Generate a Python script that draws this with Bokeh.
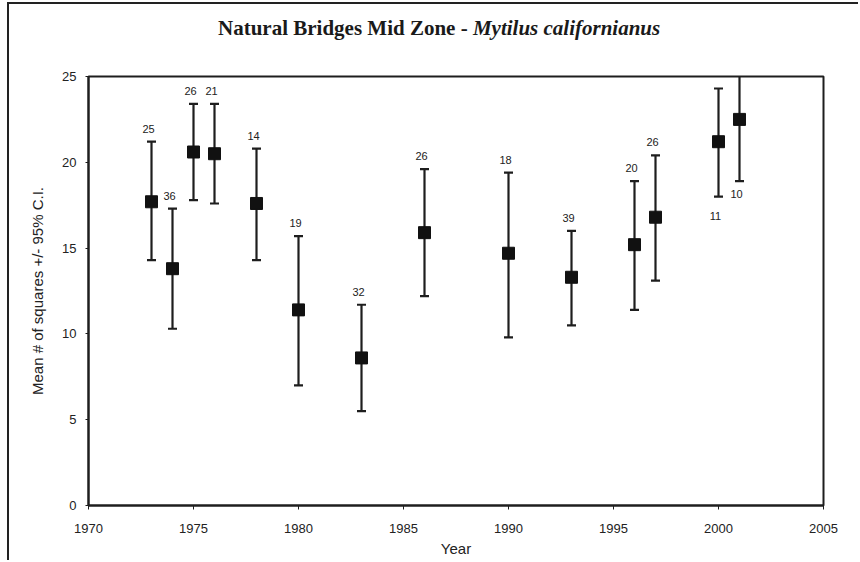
from bokeh.plotting import figure
from bokeh.models import Range1d, SingleIntervalTicker, ColumnDataSource, Div
from bokeh.layouts import column
from bokeh.core.properties import value
from bokeh.embed import file_html
from bokeh.resources import INLINE

# ---- data ----
years = [1973, 1974, 1975, 1976, 1978, 1980, 1983, 1986, 1990, 1993, 1996, 1997, 2000, 2001]
means = [17.7, 13.8, 20.6, 20.5, 17.6, 11.4, 8.6, 15.9, 14.7, 13.3, 15.2, 16.8, 21.2, 22.5]
upper = [21.2, 17.3, 23.4, 23.4, 20.8, 15.7, 11.7, 19.6, 19.4, 16.0, 18.9, 20.4, 24.3, 25.5]
lower = [14.3, 10.3, 17.8, 17.6, 14.3, 7.0, 5.5, 12.2, 9.8, 10.5, 11.4, 13.1, 18.0, 18.9]
n_labels = ["25", "36", "26", "21", "14", "19", "32", "26", "18", "39", "20", "26", "11", "10"]
label_side = ["above"] * 12 + ["below", "below"]

title_plain = "Natural Bridges Mid Zone - "
title_species = "Mytilus californianus"

x_ticks_start, x_ticks_end = 1970, 2005
y_ticks_start, y_ticks_end = 0, 25

INK = "#1e1e1e"
FRAME_BG = ("linear-gradient(#222,#222) 7px 2px / 2px 100% no-repeat, "
            "linear-gradient(#222,#222) 7px 2px / 100% 2px no-repeat, white")
FRAME_BG2 = "linear-gradient(#222,#222) 7px 0 / 2px 100% no-repeat, white"

title_div = Div(
    text=(f'<div style="margin-top:15px; margin-left:218px; white-space:nowrap; '
          f'font-family:\'Liberation Serif\'; font-weight:bold; font-size:21px; '
          f'line-height:26px; color:#1a1a1a">{title_plain}<i>{title_species}</i></div>'),
    width=858, height=50, margin=0, styles={"background": FRAME_BG})

p = figure(width=852, height=510, output_backend="svg", toolbar_location=None,
           x_range=Range1d(x_ticks_start, x_ticks_end), y_range=Range1d(y_ticks_start, y_ticks_end),
           min_border_left=88, min_border_right=29, min_border_top=26, min_border_bottom=55,
           margin=0, styles={"background": FRAME_BG2})
p.background_fill_color = "white"
p.border_fill_color = None
p.xgrid.visible = False
p.ygrid.visible = False
p.outline_line_color = INK
p.outline_line_width = 2

for ax in (p.xaxis[0], p.yaxis[0]):
    ax.ticker = SingleIntervalTicker(interval=5)
    ax.minor_tick_line_color = None
    ax.axis_line_color = INK
    ax.axis_line_width = 2
    ax.major_tick_line_color = INK
    ax.major_tick_line_width = 1
    ax.major_tick_in = 0
    ax.major_label_text_font = "Liberation Sans"
    ax.major_label_text_font_size = "13px"
    ax.major_label_text_color = "#222222"
    ax.axis_label_text_font = "Liberation Sans"
    ax.axis_label_text_font_style = "normal"
    ax.axis_label_text_font_size = "15px"
    ax.axis_label_text_color = "#222222"

p.xaxis.axis_label = "Year"
p.xaxis.major_tick_out = 4
p.xaxis.major_label_standoff = 14
p.xaxis.axis_label_standoff = 4
p.yaxis.axis_label = "Mean # of squares +/- 95% C.I."
p.yaxis.major_tick_out = 3
p.yaxis.major_label_standoff = 8
p.yaxis.axis_label_standoff = 13
p.yaxis.major_label_orientation = "horizontal"

anchor = [u if s == "above" else l for u, l, s in zip(upper, lower, label_side)]
offs = []
for s, lab in zip(label_side, n_labels):
    if s == "above":
        offs.append(-13)
    else:
        offs.append(19 if lab == "11" else 13)

src = ColumnDataSource(dict(x=years, m=means, up=upper, lo=lower, lab=n_labels, ay=anchor, yo=offs))

p.segment(x0="x", y0="lo", x1="x", y1="up", source=src, line_color=INK, line_width=2.2)
p.dash(x="x", y="up", source=src, size=9, line_color=INK, line_width=2.2)
p.dash(x="x", y="lo", source=src, size=9, line_color=INK, line_width=2.2)
p.scatter(x="x", y="m", source=src, marker="square", size=12, fill_color="#111111", line_color="#111111")
p.text(x="x", y="ay", text="lab", source=src, x_offset=-3, y_offset="yo",
       text_align="center", text_baseline="middle", text_font=value("Liberation Sans"),
       text_font_size="11px", text_color="#222222")

layout = column(title_div, p, spacing=0)
open("out.html", "w").write(file_html(layout, INLINE))
